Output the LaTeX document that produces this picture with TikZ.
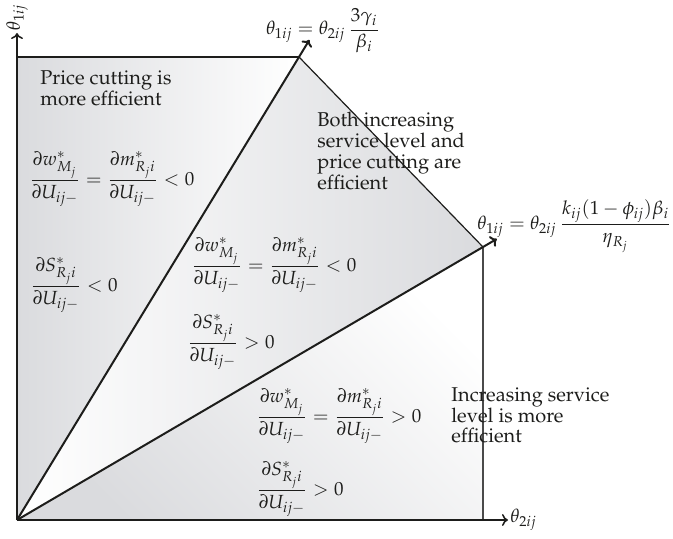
\documentclass[tikz,border=0pt]{standalone}
\usepackage{amsmath,amssymb}
\usepackage[T1]{fontenc}
\usepackage{mathpazo}
\usetikzlibrary{arrows.meta,calc}
\definecolor{ink}{HTML}{1D1D1B}
\definecolor{shadeg}{HTML}{DADBDE}
\definecolor{edge}{HTML}{4A4A4A}
\tikzset{
  axis/.style={-{To[length=3pt,width=6pt]}, line width=0.75pt, draw=ink},
  bound/.style={line width=0.6pt, draw=ink},
  ray/.style={-{To[length=3pt,width=6pt]}, line width=1pt, draw=ink},
  note/.style={align=left, anchor=north west, inner sep=0pt, text=ink, font=\fontsize{10}{10.4}\selectfont},
  eqn/.style={anchor=west, inner sep=0pt, text=ink, font=\fontsize{9.5}{11}\selectfont},
}
\newcommand{\dwm}{\dfrac{\partial w^{*}_{M_j}}{\partial U_{ij-}}}
\newcommand{\dmr}{\dfrac{\partial m^{*}_{R_j i}}{\partial U_{ij-}}}
\newcommand{\dsr}{\dfrac{\partial S^{*}_{R_j i}}{\partial U_{ij-}}}

\begin{document}
\begin{tikzpicture}[x=0.5pt, y=-0.5pt]
    \useasboundingbox (0,0) rectangle (673,539);
    % corners of the regions
    \coordinate (O) at (17,520);
    \coordinate (TL) at (17,57);
    \coordinate (A1) at (299,57);
    \coordinate (A2) at (483,247);
    \coordinate (B) at (483,520);
    \coordinate (ytip) at (17,33);
    \coordinate (xtip) at (508,520);
    \coordinate (A1tip) at ($(A1)!-10pt!(O)$);
    \coordinate (A2tip) at ($(A2)!-8pt!(O)$);
    % shaded regions
    \shade[left color=shadeg, right color=white] (O) -- (TL) -- (A1) -- cycle;
    \shade[left color=white, right color=shadeg] (O) -- (A1) -- (A2) -- cycle;
    \shade[top color=white, bottom color=shadeg, shading angle=-45] (O) -- (A2) -- (B) -- cycle;
    % borders and axes
    \draw[bound, line width=0.75pt] (TL) -- (A1);
    \draw[bound] (A1) -- (A2);
    \draw[bound, draw=edge, line width=0.75pt] (A2) -- (B);
    \draw[axis] (O) -- (ytip);
    \draw[axis] (O) -- (xtip);
    \draw[ray] (O) -- (A1tip);
    \draw[ray] (O) -- (A2tip);
    \node[eqn, rotate=90, anchor=west, inner sep=1pt] (ylab) at (ytip) {$\theta_{1ij}$};
    \node[eqn, anchor=west, inner sep=1pt] (xlab) at (xtip) {$\theta_{2ij}$};
    \node[eqn, anchor=center] (linea) at (323,31) {$\theta_{1ij}=\theta_{2ij}\,\dfrac{3\gamma_i}{\beta_i}$};
    \node[eqn] (lineb) at (477,226) {$\theta_{1ij}=\theta_{2ij}\,\dfrac{k_{ij}(1-\phi_{ij})\beta_i}{\eta_{R_j}}$};
    % region texts
    \node[note] (price) at (40,70) {Price cutting is\\more efficient};
    \node[note] (both) at (317,112) {Both increasing\\service level and\\price cutting are\\efficient};
    \node[note] (serv) at (451,387) {Increasing service\\level is more\\efficient};
    \node[eqn] (pa) at (29,179) {$\dwm=\dmr<0$};
    \node[eqn] (pb) at (30,285) {$\dsr<0$};
    \node[eqn] (ba) at (191,265) {$\dwm=\dmr<0$};
    \node[eqn] (bb) at (187,342) {$\dsr>0$};
    \node[eqn] (sa) at (256,416) {$\dwm=\dmr>0$};
    \node[eqn] (sb) at (256,489) {$\dsr>0$};
\end{tikzpicture}
\end{document}
